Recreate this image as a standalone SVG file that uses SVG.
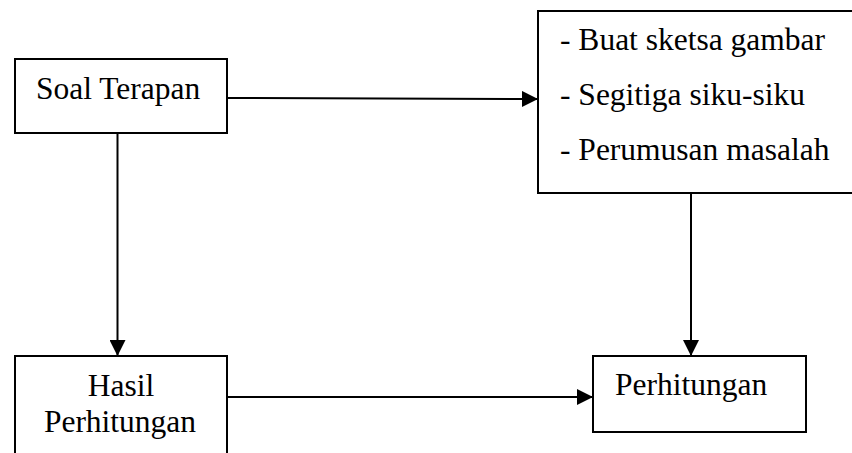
<svg xmlns="http://www.w3.org/2000/svg" width="852" height="453" viewBox="0 0 852 453">
  <style>
    .box { fill: #ffffff; stroke: #000000; stroke-width: 2; }
    .lbl { font-family: "Liberation Serif", "Times New Roman", serif; font-size: 31.5px; fill: #000000; }
    .edge { fill: none; stroke: #000000; stroke-width: 2; }
  </style>
  <defs>
    <marker id="arrow" markerUnits="userSpaceOnUse" markerWidth="16" markerHeight="16" viewBox="0 0 16 16" refX="16" refY="8" orient="auto">
      <path d="M0,0 L16,8 L0,16 Z" fill="#000000"/>
    </marker>
  </defs>
  <rect width="852" height="453" fill="#ffffff"/>

  <g id="connectors">
    <line class="edge" x1="227" y1="98" x2="538" y2="99" marker-end="url(#arrow)"/>
    <line class="edge" x1="117.5" y1="133" x2="117.5" y2="356" marker-end="url(#arrow)"/>
    <line class="edge" x1="691" y1="193" x2="691" y2="356" marker-end="url(#arrow)"/>
    <line class="edge" x1="227" y1="397" x2="593" y2="397" marker-end="url(#arrow)"/>
  </g>

  <g id="soal-terapan">
    <rect class="box" x="15" y="59" width="212" height="74"/>
    <text class="lbl" x="36" y="99">Soal Terapan</text>
  </g>

  <g id="langkah">
    <rect class="box" x="538" y="11" width="330" height="182"/>
    <text class="lbl" x="560" y="50">- Buat sketsa gambar</text>
    <text class="lbl" x="560" y="105">- Segitiga siku-siku</text>
    <text class="lbl" x="560" y="160">- Perumusan masalah</text>
  </g>

  <g id="hasil-perhitungan">
    <rect class="box" x="15" y="356" width="212" height="110"/>
    <text class="lbl" x="121" y="396" text-anchor="middle">Hasil</text>
    <text class="lbl" x="120" y="432" text-anchor="middle">Perhitungan</text>
  </g>

  <g id="perhitungan">
    <rect class="box" x="593" y="356" width="213" height="76"/>
    <text class="lbl" x="615" y="395">Perhitungan</text>
  </g>
</svg>
